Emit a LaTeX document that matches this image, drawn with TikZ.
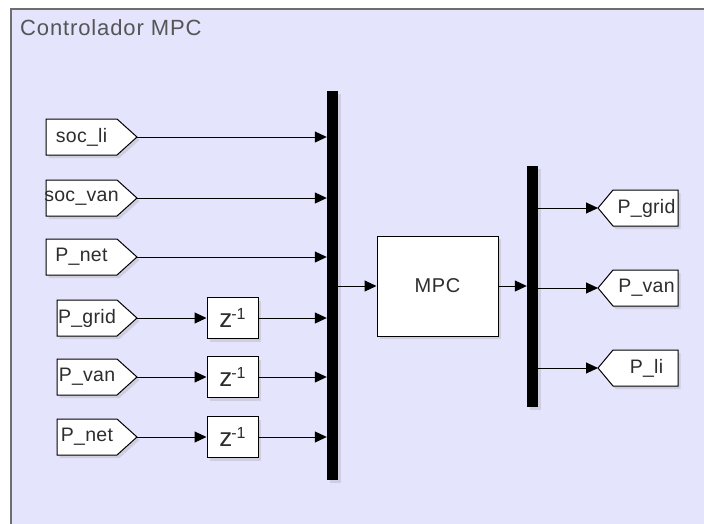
\documentclass[tikz,border=0pt]{standalone}
\usepackage{fontspec}
\setmainfont{Liberation Sans}
\usetikzlibrary{arrows.meta,shadows}
\definecolor{bgc}{RGB}{228,228,252}
\definecolor{framec}{RGB}{110,110,110}
\definecolor{titlec}{RGB}{85,85,85}
\definecolor{txtc}{RGB}{45,45,45}
\tikzset{
  shd/.style={drop shadow={opacity=0.22, shadow xshift=2.5pt, shadow yshift=-3pt}},
  blk/.style={draw=black, line width=1pt, fill=white, shd, inner sep=0pt},
  tagst/.style={draw=black, line width=1pt, fill=white, shd},
  lbl/.style={inner sep=0pt, text=txtc, font=\fontsize{19.5}{22}\selectfont\addfontfeatures{LetterSpace=1.5}},
  sig/.style={line width=1pt, -{Triangle[length=12pt,width=11pt]}},
  busst/.style={fill=black, draw=none, inner sep=0pt, shd},
  delay/.style={blk, minimum width=51pt, minimum height=41pt, text=txtc},
}
\newcommand\mkin[5]{%
  \draw[tagst] (#2,#4-18) -- (#3-20,#4-18) -- (#3,#4) -- (#3-20,#4+18) -- (#2,#4+18) -- cycle;
  \node[lbl] (#1) at ({(#2+#3-20)/2},#4) {#5};
  \coordinate (#1t) at (#3,#4);}
\newcommand\mkout[5]{%
  \draw[tagst] (#2,#4) -- (#2+15,#4-18) -- (#3,#4-18) -- (#3,#4+18) -- (#2+15,#4+18) -- cycle;
  \node[lbl] (#1) at ({(#2+15+#3)/2+1},#4) {#5};
  \coordinate (#1t) at (#2,#4);}
\newcommand\zinv{{\fontsize{26}{26}\selectfont z}\kern-1pt\raisebox{8pt}{\fontsize{16}{16}\selectfont -1}}
\begin{document}
\begin{tikzpicture}[x=1pt,y=-1pt]
\useasboundingbox (0,0) rectangle (704,523);
\fill[white] (0,0) rectangle (704,523);
\draw[framec, line width=1.6pt, fill=bgc] (11,9) rectangle (712,532);
\node[anchor=west, inner sep=0pt, text=titlec, font=\fontsize{22}{24}\selectfont\addfontfeatures{LetterSpace=4}] (title) at (20,28) {Controlador MPC};

% buses and MPC
\node[busst, minimum width=11pt, minimum height=389pt] (bus1) at (332.5,285.5) {};
\node[busst, minimum width=11pt, minimum height=241pt] (bus2) at (532.5,286.5) {};
\node[blk, minimum width=121pt, minimum height=100pt, text=txtc, font=\fontsize{20}{22}\selectfont\addfontfeatures{LetterSpace=3}] (mpc) at (437.5,286) {MPC};

% delays
\node[delay] (d1) at (232.5,318) {\zinv};
\node[delay] (d2) at (232.5,377) {\zinv};
\node[delay] (d3) at (232.5,437) {\zinv};

% input tags
\mkin{in1}{46}{137}{137}{soc\_li}
\mkin{in2}{46}{137}{198}{soc\_van}
\mkin{in3}{46}{137}{257}{P\_net}
\mkin{in4}{57}{137}{318}{P\_grid}
\mkin{in5}{57}{137}{377}{P\_van}
\mkin{in6}{57}{137}{437}{P\_net}

% output tags
\mkout{out1}{598}{678}{208}{P\_grid}
\mkout{out2}{598}{678}{288}{P\_van}
\mkout{out3}{598}{678}{368}{P\_li}

% connectors
\draw[sig] (in1t) -- (in1t -| bus1.west);
\draw[sig] (in2t) -- (in2t -| bus1.west);
\draw[sig] (in3t) -- (in3t -| bus1.west);
\draw[sig] (in4t) -- (d1.west);
\draw[sig] (in5t) -- (d2.west);
\draw[sig] (in6t) -- (d3.west);
\draw[sig] (d1.east) -- (d1.east -| bus1.west);
\draw[sig] (d2.east) -- (d2.east -| bus1.west);
\draw[sig] (d3.east) -- (d3.east -| bus1.west);
\draw[sig] (mpc.west -| bus1.east) -- (mpc.west);
\draw[sig] (mpc.east) -- (mpc.east -| bus2.west);
\draw[sig] (out1t -| bus2.east) -- (out1t);
\draw[sig] (out2t -| bus2.east) -- (out2t);
\draw[sig] (out3t -| bus2.east) -- (out3t);
\end{tikzpicture}
\end{document}
